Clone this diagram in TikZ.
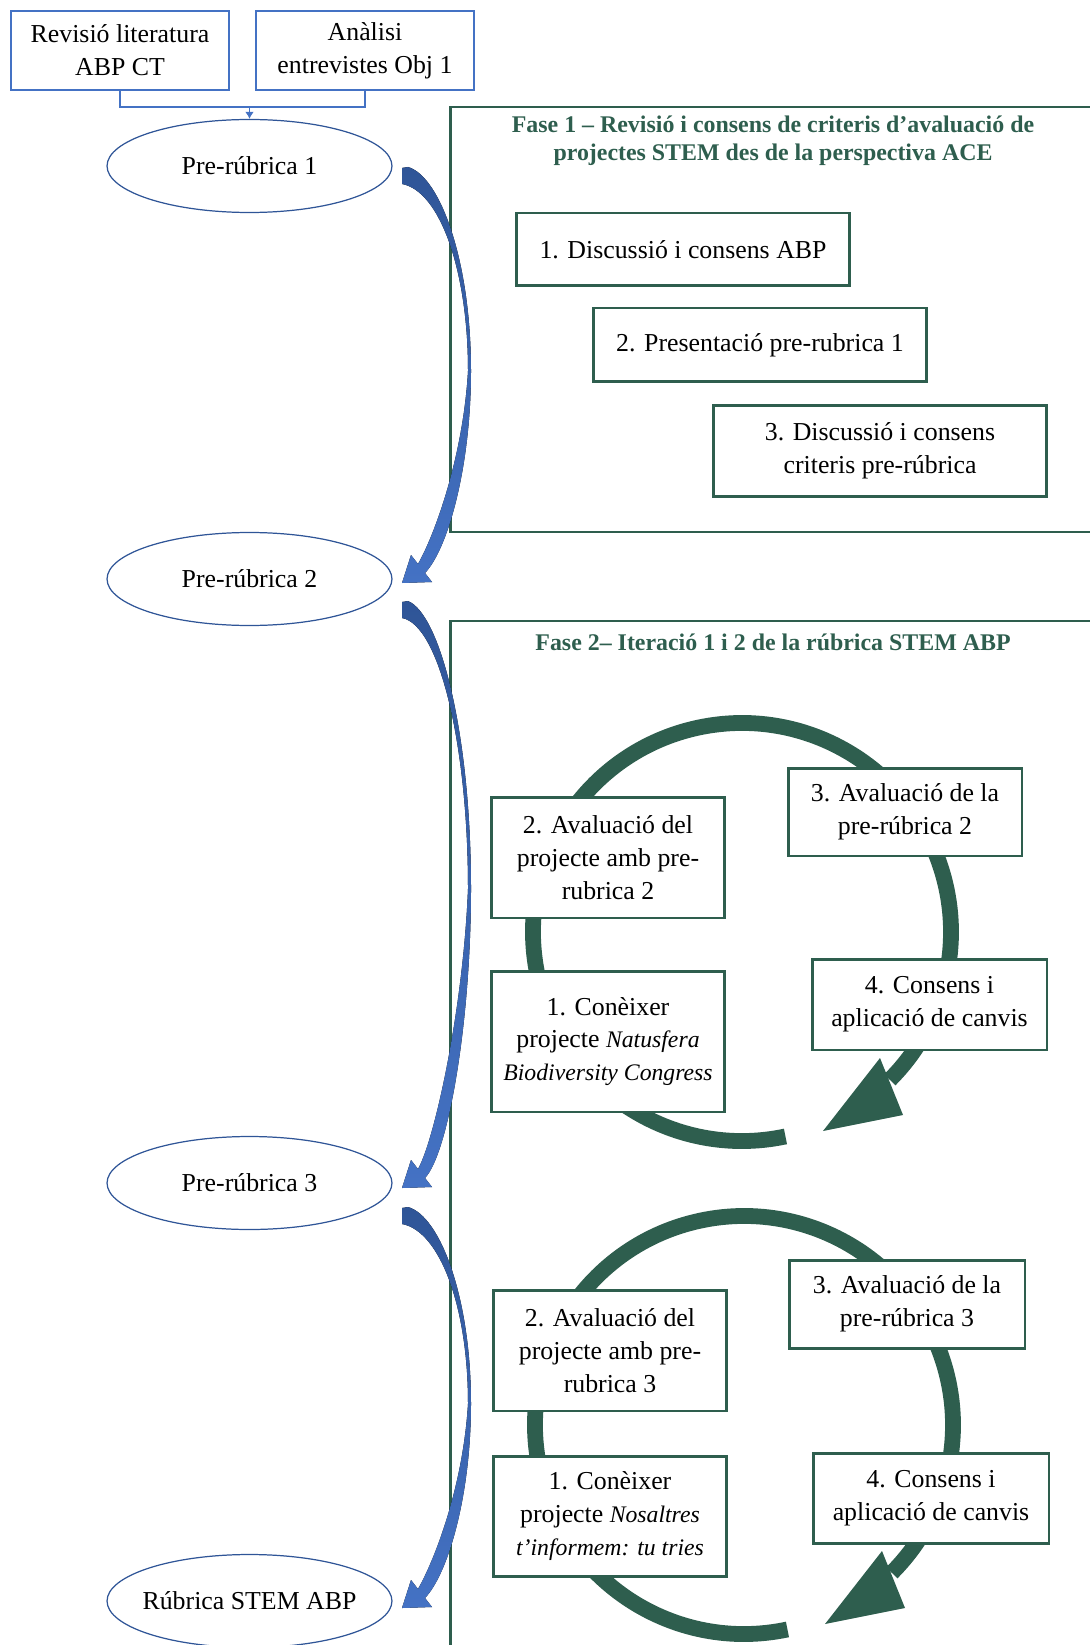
\documentclass[tikz,border=0pt]{standalone}
\usepackage{fontspec}
\setmainfont{Liberation Serif}
\usetikzlibrary{shapes.geometric,arrows.meta,calc}
\definecolor{fasegreen}{RGB}{46,94,78}
\definecolor{lineblue}{RGB}{68,114,196}
\definecolor{arrowdark}{RGB}{47,85,151}
\definecolor{arrowlight}{RGB}{68,114,196}
\newcommand{\bodyfont}{\fontsize{14.7}{18.7}\selectfont}
\newcommand{\titlefont}{\bfseries\fontsize{13.6}{16}\selectfont}
\newcommand{\projname}[1]{{\fontsize{13.5}{18.7}\selectfont\itshape #1}}
\tikzset{
  topbox/.style={draw=lineblue,line width=0.9pt,minimum width=4.36cm,minimum height=1.58cm,align=center,inner sep=0pt,font=\bodyfont},
  stage/.style={ellipse,draw=arrowdark,line width=0.7pt,minimum width=5.7cm,minimum height=1.86cm,inner sep=0pt,inner xsep=-1cm,font=\bodyfont},
  stepbox/.style={draw=fasegreen,line width=1.7pt,fill=white,align=center,inner sep=0pt,font=\bodyfont},
  fasetitle/.style={text=fasegreen,font=\titlefont,align=center},
  faseframe/.style={draw=fasegreen,line width=1.7pt},
  ring/.style={draw=fasegreen,line width=9pt},
}
% blue bent arrow: #1 top y, #2 tip y (pixels, downwards)
\newcommand{\bendarrow}[2]{%
  \pgfmathsetmacro{\arrlen}{#2-#1}
  \fill[top color=arrowdark,bottom color=arrowlight]
    (402,{-#1-1}) -- (408,{-#1})
    .. controls (440,{-#1-0.022*\arrlen}) and (471,{-#1-0.225*\arrlen}) .. (471,{-#1-0.49*\arrlen})
    .. controls (471,{-#1-0.72*\arrlen}) and (448,{-#2+34}) .. (425,{-#2+10})
    -- (432,{-#2+1}) -- (402,{-#2}) -- (411,{-#2+28}) -- (418,{-#2+19})
    .. controls (434,{-#2+47}) and (463,{-#1-0.70*\arrlen}) .. (468,{-#1-0.49*\arrlen})
    .. controls (468,{-#1-0.25*\arrlen}) and (440,{-#1-24}) .. (402,{-#1-17}) -- cycle;
}
% green iteration ring round centre #1
\newcommand{\iterring}[1]{%
  \draw[ring] (#1) ++(282:209) arc[start angle=282,end angle=-45,radius=209];
  \fill[fasegreen] ($(#1)+(138,-126)$) -- ($(#1)+(81,-199)$) -- ($(#1)+(161,-183)$) -- cycle;
}

\begin{document}
\begin{tikzpicture}[x=0.02cm,y=0.02cm]
\useasboundingbox (0,0) rectangle (1089,-1645);

% sources
\node[topbox] (lit) at (120,-50.5) {Revisió literatura\\ABP CT};
\node[topbox] (entr) at (365,-50.5) {Anàlisi\\entrevistes Obj 1};

% rubric versions
\node[stage] (pre1) at (249.5,-166) {Pre-rúbrica 1};
\node[stage] (pre2) at (249.5,-579) {Pre-rúbrica 2};
\node[stage] (pre3) at (249.5,-1183) {Pre-rúbrica 3};
\node[stage] (final) at (249.5,-1601) {Rúbrica STEM ABP};

\coordinate (join) at (pre1.north |- 0,-107);
\draw[lineblue,line width=0.9pt] (lit.south) |- (join) -| (entr.south);
\draw[lineblue,line width=0.9pt,-{Latex[length=4pt,width=5pt]}] (join) -- (pre1.north);

% fase 1
\draw[faseframe] (1100,-107) -- (450,-107) -- (450,-532) -- (1100,-532);
\node[fasetitle] (tit1) at (773,-141) {Fase 1 – Revisió i consens de criteris d’avaluació de\\projectes STEM des de la perspectiva ACE};
\node[stepbox,minimum width=6.68cm,minimum height=1.46cm] (f1a) at (683,-249.5) {1. Discussió i consens ABP};
\node[stepbox,minimum width=6.68cm,minimum height=1.48cm] (f1b) at (760,-345) {2. Presentació pre-rubrica 1};
\node[stepbox,minimum width=6.68cm,minimum height=1.84cm] (f1c) at (880,-451) {3. Discussió i consens\\criteris pre-rúbrica};

% fase 2
\draw[faseframe] (1100,-621) -- (450,-621) -- (450,-1660);
\node[fasetitle] (tit2) at (773,-642) {Fase 2– Iteració 1 i 2 de la rúbrica STEM ABP};

\coordinate (it1) at (742,-932);
\coordinate (it2) at (744,-1425);
\iterring{it1}
\iterring{it2}

\node[stepbox,minimum width=4.68cm,minimum height=2.42cm] (a2) at (608,-857.5) {2. Avaluació del\\projecte amb pre-\\rubrica 2};
\node[stepbox,minimum width=4.68cm,minimum height=1.76cm] (a3) at (905,-812) {3. Avaluació de la\\pre-rúbrica 2};
\node[stepbox,minimum width=4.68cm,minimum height=2.82cm] (a1) at (608,-1041.5) {1. Conèixer\\projecte \projname{Natusfera}\\\projname{Biodiversity Congress}};
\node[stepbox,minimum width=4.7cm,minimum height=1.82cm] (a4) at (929.5,-1004.5) {4. Consens i\\aplicació de canvis};

\node[stepbox,minimum width=4.68cm,minimum height=2.42cm] (b2) at (610,-1350.5) {2. Avaluació del\\projecte amb pre-\\rubrica 3};
\node[stepbox,minimum width=4.72cm,minimum height=1.76cm] (b3) at (907,-1304) {3. Avaluació de la\\pre-rúbrica 3};
\node[stepbox,minimum width=4.68cm,minimum height=2.4cm] (b1) at (610,-1516) {1. Conèixer\\projecte \projname{Nosaltres}\\\projname{t’informem: tu tries}};
\node[stepbox,minimum width=4.72cm,minimum height=1.8cm] (b4) at (931,-1498) {4. Consens i\\aplicació de canvis};

% bent arrows between versions
\bendarrow{167}{583}
\bendarrow{601}{1188}
\bendarrow{1207}{1608}
\end{tikzpicture}
\end{document}
